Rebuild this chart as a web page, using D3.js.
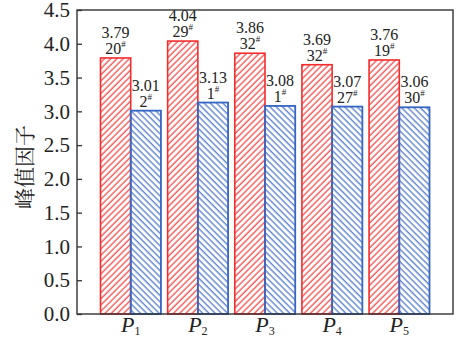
<!DOCTYPE html>
<html>
<head>
<meta charset="utf-8">
<script src="https://cdn.jsdelivr.net/npm/d3@7"></script>
</head>
<body style="margin:0">
<script>
// categories and two series (peak factor, with sample number)
var categories = ["1", "2", "3", "4", "5"];
var redValues  = [3.79, 4.04, 3.86, 3.69, 3.76];
var redIds     = ["20", "29", "32", "32", "19"];
var blueValues = [3.01, 3.13, 3.08, 3.07, 3.06];
var blueIds    = ["2", "1", "1", "27", "30"];
var yTicks     = [0, 0.5, 1, 1.5, 2, 2.5, 3, 3.5, 4, 4.5];

var width = 456, height = 339;
var red = "#f42c2c", blue = "#3566c4";

var x = d3.scaleLinear().domain([0.2, 5.8]).range([77, 453]);
var y = d3.scaleLinear().domain([0, 4.5]).range([314, 10]);
var barW = 0.45;

var svg = d3.select("body").append("svg")
    .attr("width", width)
    .attr("height", height)
    .attr("font-family", "Liberation Serif");

// hatch patterns
var defs = svg.append("defs");
function hatch(id, color, angle) {
  var p = defs.append("pattern")
      .attr("id", id)
      .attr("patternUnits", "userSpaceOnUse")
      .attr("width", 4.4)
      .attr("height", 10)
      .attr("patternTransform", "rotate(" + angle + ")");
  p.append("line")
      .attr("x1", 1).attr("y1", 0)
      .attr("x2", 1).attr("y2", 10)
      .attr("stroke", color)
      .attr("stroke-width", 1.1);
}
hatch("hatchRed", red, 45);
hatch("hatchBlue", blue, -45);

// bars
var groups = svg.selectAll("g.grp")
  .data(categories)
  .enter().append("g")
    .attr("class", "grp");

groups.append("rect")
    .attr("x", function(d, i) { return x(i + 1 - barW); })
    .attr("y", function(d, i) { return y(redValues[i]); })
    .attr("width", function() { return x(barW) - x(0); })
    .attr("height", function(d, i) { return y(0) - y(redValues[i]); })
    .attr("fill", "url(#hatchRed)")
    .attr("stroke", red)
    .attr("stroke-width", 1.6);

groups.append("rect")
    .attr("x", function(d, i) { return x(i + 1); })
    .attr("y", function(d, i) { return y(blueValues[i]); })
    .attr("width", function() { return x(barW) - x(0); })
    .attr("height", function(d, i) { return y(0) - y(blueValues[i]); })
    .attr("fill", "url(#hatchBlue)")
    .attr("stroke", blue)
    .attr("stroke-width", 1.8);

// value labels: value on first line, sample number with # on second
function labels(values, ids, offset) {
  groups.append("text")
      .attr("x", function(d, i) { return x(i + 1 + offset); })
      .attr("y", function(d, i) { return y(values[i]) - 20; })
      .attr("text-anchor", "middle")
      .attr("fill", "#222")
      .attr("font-family", "Liberation Serif")
      .attr("font-size", 16)
      .text(function(d, i) { return values[i].toFixed(2); });
  var t = groups.append("text")
      .attr("x", function(d, i) { return x(i + 1 + offset); })
      .attr("y", function(d, i) { return y(values[i]) - 4; })
      .attr("text-anchor", "middle")
      .attr("fill", "#222")
      .attr("font-family", "Liberation Serif")
      .attr("font-size", 16);
  t.append("tspan").text(function(d, i) { return ids[i]; });
  t.append("tspan")
      .attr("dy", -7)
      .attr("font-size", 9)
      .text("#");
}
labels(redValues, redIds, -barW / 2);
labels(blueValues, blueIds, barW / 2);

// frame
svg.append("rect")
    .attr("x", x(0.2)).attr("y", y(4.5))
    .attr("width", x(5.8) - x(0.2))
    .attr("height", y(0) - y(4.5))
    .attr("fill", "none")
    .attr("stroke", "#333")
    .attr("stroke-width", 1.4);

// y axis, ticks pointing inward
var yAxis = svg.append("g")
    .attr("transform", "translate(" + x(0.2) + ",0)")
    .call(d3.axisLeft(y).tickValues(yTicks).tickSize(-5).tickPadding(7)
      .tickFormat(d3.format(".1f")));
yAxis.attr("font-family", "Liberation Serif").attr("font-size", 21);
yAxis.select(".domain").remove();
yAxis.selectAll("line").attr("stroke", "#333").attr("stroke-width", 1.3);
yAxis.selectAll("text").attr("fill", "#222");

// x labels P with subscript
var xl = svg.selectAll("text.xl")
  .data(categories)
  .enter().append("text")
    .attr("class", "xl")
    .attr("x", function(d, i) { return x(i + 1); })
    .attr("y", 332)
    .attr("text-anchor", "middle")
    .attr("fill", "#222")
    .attr("font-family", "Liberation Serif")
    .attr("font-size", 22);
xl.append("tspan").attr("font-style", "italic").text("P");
xl.append("tspan")
    .attr("dy", 3)
    .attr("font-size", 12)
    .text(function(d) { return d; });

// y title
svg.append("text")
    .attr("transform", "translate(32,167) rotate(-90)")
    .attr("text-anchor", "middle")
    .attr("fill", "#222")
    .attr("font-family", "Noto Serif CJK SC")
    .attr("font-size", 21)
    .text("峰值因子");
</script>
</body>
</html>
